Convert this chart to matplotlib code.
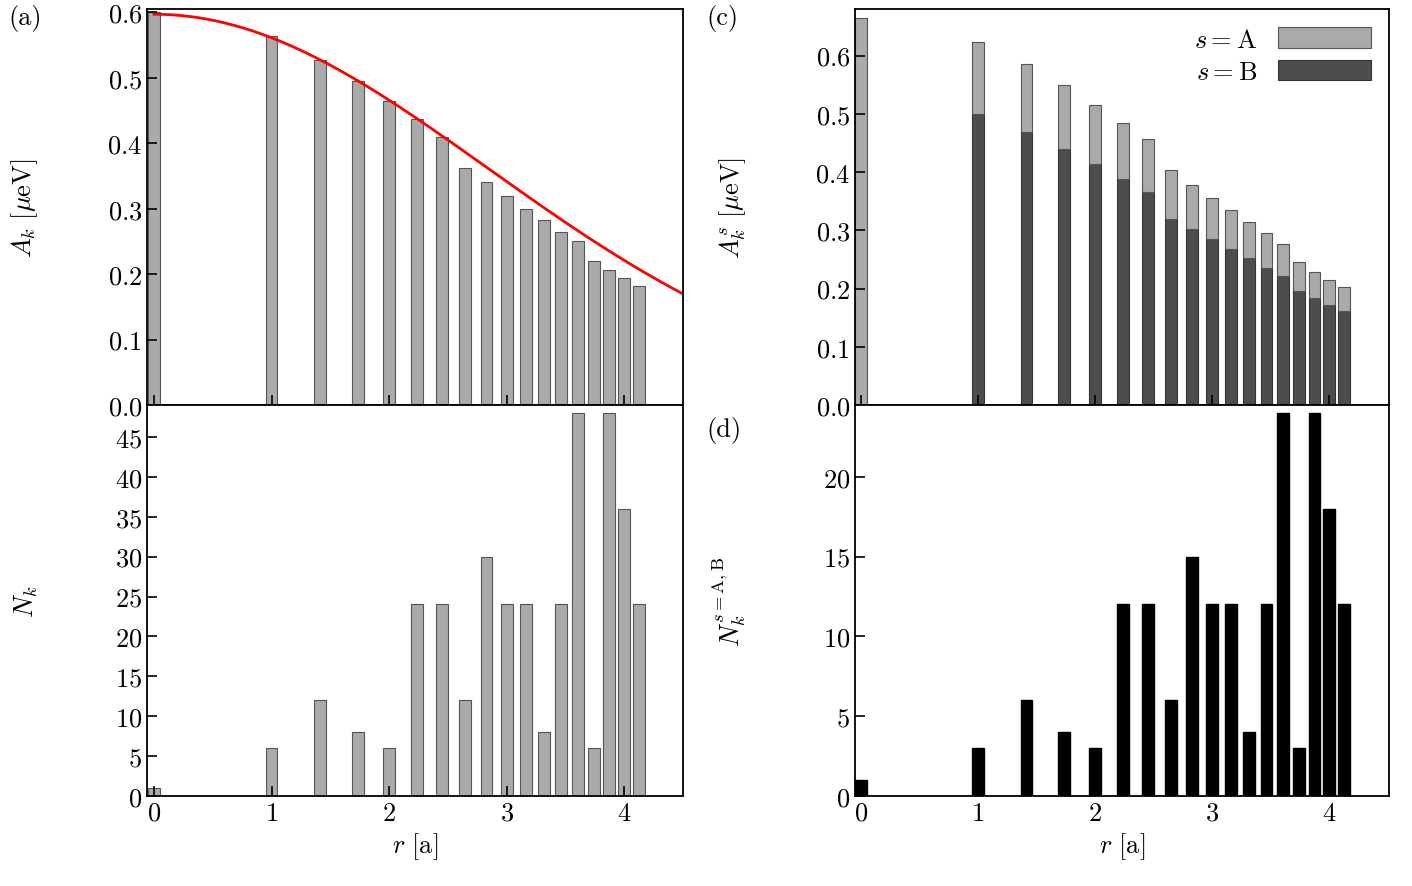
import matplotlib
matplotlib.use("Agg")
import matplotlib.pyplot as plt
import numpy as np

plt.rcParams["font.family"] = "serif"
plt.rcParams["font.serif"] = ["cmr10"]
plt.rcParams["mathtext.fontset"] = "cm"
plt.rcParams["axes.formatter.use_mathtext"] = True
plt.rcParams["font.size"] = 19

r = np.sqrt([0, 1, 2, 3, 4, 5, 6, 7, 8, 9, 10, 11, 12, 13, 14, 15, 16, 17])
a_k = [0.6, 0.563, 0.527, 0.495, 0.465, 0.437, 0.41, 0.362, 0.34, 0.32,
       0.3, 0.282, 0.265, 0.25, 0.22, 0.207, 0.194, 0.182]
n_k = [1, 6, 12, 8, 6, 24, 24, 12, 30, 24, 24, 8, 24, 48, 6, 48, 36, 24]
a_total = [0.665, 0.623, 0.585, 0.55, 0.516, 0.485, 0.456, 0.403, 0.378, 0.356,
           0.334, 0.315, 0.295, 0.276, 0.245, 0.229, 0.215, 0.202]
a_b = [0.0, 0.5, 0.468, 0.44, 0.413, 0.388, 0.365, 0.32, 0.302, 0.285,
       0.268, 0.252, 0.236, 0.221, 0.195, 0.183, 0.172, 0.162]
n_ab = [1, 3, 6, 4, 3, 12, 12, 6, 15, 12, 12, 4, 12, 24, 3, 24, 18, 12]
# gaussian fit of the envelope
fit_amp, fit_2sig2 = 0.597, 16.1

W, H = 1412, 887
fig = plt.figure(figsize=(W / 100, H / 100), dpi=100)

def box(x0, x1, y0, y1):
    return [x0 / W, 1 - y1 / H, (x1 - x0) / W, (y1 - y0) / H]

axa = fig.add_axes(box(147, 683, 10, 406))
axb = fig.add_axes(box(147, 683, 406, 797))
axc = fig.add_axes(box(855, 1389, 10, 406))
axd = fig.add_axes(box(855, 1389, 406, 797))

bw = 0.1
grey = "#aaaaaa"
dark = "#4d4d4d"
axa.bar(r, a_k, bw, color=grey, edgecolor="#555555", lw=0.8)
rr = np.linspace(0, 4.5, 300)
axa.plot(rr, fit_amp * np.exp(-rr ** 2 / fit_2sig2), color="red", lw=2)
axa.set_ylim(0, 0.605)
axa.set_ylabel(r"$A_k\ [\mu\mathrm{eV}]$")

axb.bar(r, n_k, bw, color=grey, edgecolor="#555555", lw=0.8)
axb.set_ylim(0, 49)
axb.set_yticks(range(0, 50, 5))
axb.set_ylabel(r"$N_k$")

a_a = np.array(a_total) - np.array(a_b)
axc.bar(r, a_b, bw, color=dark, edgecolor="#333333", lw=0.8, label=r"$s = \mathrm{B}$")
axc.bar(r, a_a, bw, bottom=a_b, color=grey, edgecolor="#555555", lw=0.8,
        label=r"$s = \mathrm{A}$")
axc.set_ylim(0, 0.68)
axc.set_ylabel(r"$A_k^s\ [\mu\mathrm{eV}]$")
h, l = axc.get_legend_handles_labels()
axc.legend(h[::-1], l[::-1], loc="upper right", frameon=False, handlelength=3.5,
           handleheight=0.8, borderpad=0.2, labelspacing=0.3, markerfirst=False)

axd.bar(r, n_ab, bw, color="black", edgecolor="black")
axd.set_ylim(0, 24.5)
axd.set_yticks(range(0, 25, 5))
axd.set_ylabel(r"$N_k^{s=\mathrm{A,B}}$")

for ax in (axa, axb):
    ax.set_xlim(-0.06, 4.5)
for ax in (axc, axd):
    ax.set_xlim(-0.05, 4.51)
for ax in (axa, axb, axc, axd):
    ax.set_xticks([0, 1, 2, 3, 4])
    ax.tick_params(direction="in", length=7, width=1.2)
    for s in ax.spines.values():
        s.set_linewidth(1.3)
    ax.yaxis.set_label_coords(-0.2, 0.5)
for ax in (axa, axc):
    ax.tick_params(labelbottom=False)
for ax in (axb, axd):
    ax.set_xlabel(r"$r\ [\mathrm{a}]$")

fig.text(8 / W, 1 - 18 / H, "(a)", va="center")
fig.text(706 / W, 1 - 18 / H, "(c)", va="center")
fig.text(706 / W, 1 - 430 / H, "(d)", va="center")

fig.savefig("out.png", dpi=100)
